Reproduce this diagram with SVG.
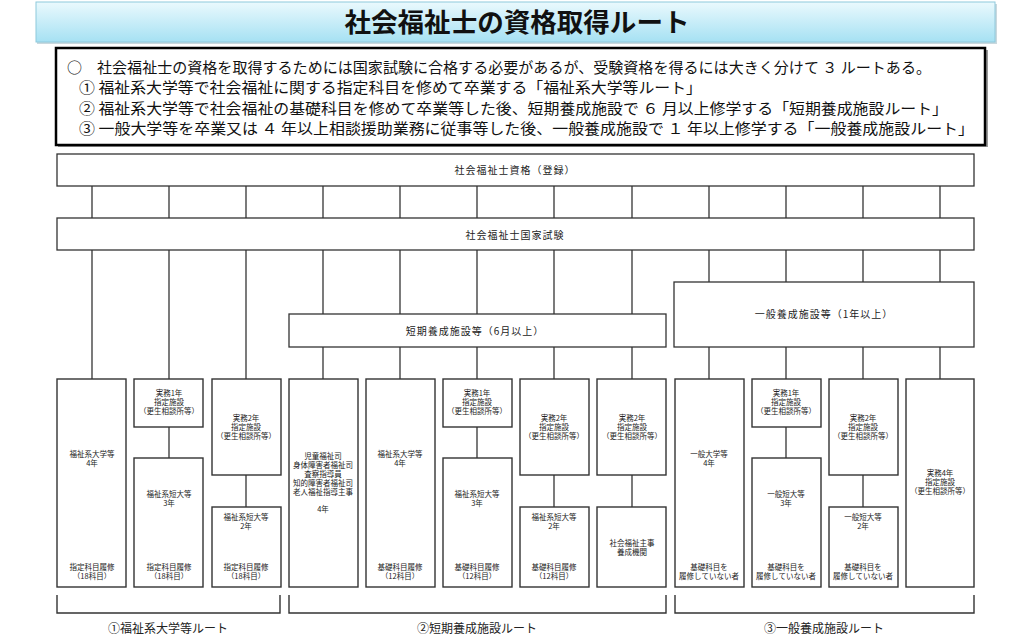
<svg xmlns="http://www.w3.org/2000/svg" width="1035" height="639" viewBox="0 0 1035 639">
<defs>
<linearGradient id="tg" x1="0" y1="0" x2="0" y2="1">
<stop offset="0" stop-color="#eaf9fd"/>
<stop offset="1" stop-color="#a6e1f3"/>
</linearGradient>
<style>
text{font-family:"Noto Sans CJK JP","Noto Sans CJK SC",sans-serif;fill:#222;}
.t{font-size:26px;font-weight:bold;fill:#111;}
.h{font-size:15px;fill:#111;}
.bar{fill:#fff;stroke:#333;stroke-width:1.3;}
.bx{fill:#fff;stroke:#333;stroke-width:1.4;}
.s{font-size:7.5px;text-anchor:middle;}
.m{font-size:10px;text-anchor:middle;letter-spacing:1px;}
.l{font-size:12px;text-anchor:middle;}
.cn line{stroke:#333;stroke-width:1.3;}
.br{fill:none;stroke:#333;stroke-width:1.4;}
</style>
</defs>
<rect width="1035" height="639" fill="#fff"/>

<g id="title">
<rect x="37" y="4" width="960" height="40" fill="#c9d8de" />
<rect x="36" y="2" width="959" height="40" fill="url(#tg)" stroke="#8ec9dc" stroke-width="1"/>
<text class="t" x="517" y="32" text-anchor="middle" textLength="345" lengthAdjust="spacingAndGlyphs">社会福祉士の資格取得ルート</text>
</g>

<g id="summary">
<rect x="58" y="50" width="930" height="97" fill="#9a9a9a"/>
<rect x="56" y="48" width="929" height="97" fill="#fff" stroke="#000" stroke-width="2.5"/>
<text class="h" x="67" y="73">○</text>
<text class="h" x="97" y="73" textLength="834" lengthAdjust="spacingAndGlyphs">社会福祉士の資格を取得するためには国家試験に合格する必要があるが、受験資格を得るには大きく分けて ３ ルートある。</text>
<text class="h" x="79" y="93" textLength="623" lengthAdjust="spacingAndGlyphs">① 福祉系大学等で社会福祉に関する指定科目を修めて卒業する「福祉系大学等ルート」</text>
<text class="h" x="79" y="114" textLength="869" lengthAdjust="spacingAndGlyphs">② 福祉系大学等で社会福祉の基礎科目を修めて卒業等した後、短期養成施設で ６ 月以上修学する「短期養成施設ルート」</text>
<text class="h" x="79" y="134" textLength="895" lengthAdjust="spacingAndGlyphs">③ 一般大学等を卒業又は ４ 年以上相談援助業務に従事等した後、一般養成施設で １ 年以上修学する「一般養成施設ルート」</text>
</g>

<g id="connectors" class="cn">
<line x1="92" y1="186" x2="92" y2="218"/><line x1="169" y1="186" x2="169" y2="218"/><line x1="246" y1="186" x2="246" y2="218"/><line x1="323" y1="186" x2="323" y2="218"/><line x1="400" y1="186" x2="400" y2="218"/><line x1="477" y1="186" x2="477" y2="218"/><line x1="554" y1="186" x2="554" y2="218"/><line x1="632" y1="186" x2="632" y2="218"/><line x1="709" y1="186" x2="709" y2="218"/><line x1="786" y1="186" x2="786" y2="218"/><line x1="863" y1="186" x2="863" y2="218"/><line x1="940" y1="186" x2="940" y2="218"/>
<line x1="92" y1="250" x2="92" y2="379"/><line x1="169" y1="250" x2="169" y2="379"/><line x1="246" y1="250" x2="246" y2="379"/>
<line x1="323" y1="250" x2="323" y2="314"/><line x1="400" y1="250" x2="400" y2="314"/><line x1="477" y1="250" x2="477" y2="314"/><line x1="554" y1="250" x2="554" y2="314"/><line x1="632" y1="250" x2="632" y2="314"/>
<line x1="709" y1="250" x2="709" y2="282"/><line x1="786" y1="250" x2="786" y2="282"/><line x1="863" y1="250" x2="863" y2="282"/><line x1="940" y1="250" x2="940" y2="282"/>
<line x1="323" y1="347" x2="323" y2="379"/><line x1="400" y1="347" x2="400" y2="379"/><line x1="477" y1="347" x2="477" y2="379"/><line x1="554" y1="347" x2="554" y2="379"/><line x1="632" y1="347" x2="632" y2="379"/>
<line x1="709" y1="347" x2="709" y2="379"/><line x1="786" y1="347" x2="786" y2="379"/><line x1="863" y1="347" x2="863" y2="379"/><line x1="940" y1="347" x2="940" y2="379"/>
<line x1="169" y1="427" x2="169" y2="458"/><line x1="246" y1="475" x2="246" y2="507"/>
<line x1="477" y1="427" x2="477" y2="458"/><line x1="554" y1="475" x2="554" y2="507"/><line x1="632" y1="475" x2="632" y2="507"/>
<line x1="786" y1="427" x2="786" y2="458"/><line x1="863" y1="475" x2="863" y2="507"/>
</g>

<g id="registration"><rect class="bar" x="57" y="154" width="917" height="32"/><text class="m" x="515" y="174">社会福祉士資格（登録）</text></g>
<g id="exam"><rect class="bar" x="57" y="218" width="917" height="32"/><text class="m" x="515" y="239" letter-spacing="3">社会福祉士国家試験</text></g>
<g id="short-course"><rect class="bar" x="289" y="314" width="377" height="33"/><text class="m" x="475" y="335">短期養成施設等（6月以上）</text></g>
<g id="general-course"><rect class="bar" x="674" y="282" width="300" height="65"/><text class="m" x="824" y="318">一般養成施設等（1年以上）</text></g>

<g id="c1"><rect class="bx" x="57" y="379" width="69" height="208"/><text class="s" x="92" y="457">福祉系大学等</text><text class="s" x="92" y="466">4年</text><text class="s" x="92" y="570">指定科目履修</text><text class="s" x="92" y="579">（18科目）</text></g>
<g id="c2a"><rect class="bx" x="134" y="379" width="69" height="48"/><text class="s" x="169" y="396">実務1年</text><text class="s" x="169" y="405">指定施設</text><text class="s" x="169" y="414">（更生相談所等）</text></g>
<g id="c2b"><rect class="bx" x="134" y="458" width="69" height="129"/><text class="s" x="169" y="497">福祉系短大等</text><text class="s" x="169" y="506">3年</text><text class="s" x="169" y="570">指定科目履修</text><text class="s" x="169" y="579">（18科目）</text></g>
<g id="c3a"><rect class="bx" x="212" y="379" width="69" height="96"/><text class="s" x="246" y="421">実務2年</text><text class="s" x="246" y="430">指定施設</text><text class="s" x="246" y="439">（更生相談所等）</text></g>
<g id="c3b"><rect class="bx" x="212" y="507" width="69" height="80"/><text class="s" x="246" y="520">福祉系短大等</text><text class="s" x="246" y="529">2年</text><text class="s" x="246" y="570">指定科目履修</text><text class="s" x="246" y="579">（18科目）</text></g>
<g id="c4"><rect class="bx" x="289" y="379" width="69" height="208"/><text class="s" x="323" y="459">児童福祉司</text><text class="s" x="323" y="468">身体障害者福祉司</text><text class="s" x="323" y="477">査察指導員</text><text class="s" x="323" y="486">知的障害者福祉司</text><text class="s" x="323" y="495">老人福祉指導主事</text><text class="s" x="323" y="512">4年</text></g>
<g id="c5"><rect class="bx" x="366" y="379" width="69" height="208"/><text class="s" x="400" y="457">福祉系大学等</text><text class="s" x="400" y="466">4年</text><text class="s" x="400" y="570">基礎科目履修</text><text class="s" x="400" y="579">（12科目）</text></g>
<g id="c6a"><rect class="bx" x="443" y="379" width="69" height="48"/><text class="s" x="477" y="396">実務1年</text><text class="s" x="477" y="405">指定施設</text><text class="s" x="477" y="414">（更生相談所等）</text></g>
<g id="c6b"><rect class="bx" x="443" y="458" width="69" height="129"/><text class="s" x="477" y="497">福祉系短大等</text><text class="s" x="477" y="506">3年</text><text class="s" x="477" y="570">基礎科目履修</text><text class="s" x="477" y="579">（12科目）</text></g>
<g id="c7a"><rect class="bx" x="520" y="379" width="69" height="96"/><text class="s" x="554" y="421">実務2年</text><text class="s" x="554" y="430">指定施設</text><text class="s" x="554" y="439">（更生相談所等）</text></g>
<g id="c7b"><rect class="bx" x="520" y="507" width="69" height="80"/><text class="s" x="554" y="520">福祉系短大等</text><text class="s" x="554" y="529">2年</text><text class="s" x="554" y="570">基礎科目履修</text><text class="s" x="554" y="579">（12科目）</text></g>
<g id="c8a"><rect class="bx" x="597" y="379" width="69" height="96"/><text class="s" x="632" y="421">実務2年</text><text class="s" x="632" y="430">指定施設</text><text class="s" x="632" y="439">（更生相談所等）</text></g>
<g id="c8b"><rect class="bx" x="597" y="507" width="69" height="80"/><text class="s" x="632" y="546">社会福祉主事</text><text class="s" x="632" y="555">養成機関</text></g>
<g id="c9"><rect class="bx" x="675" y="379" width="69" height="208"/><text class="s" x="709" y="457">一般大学等</text><text class="s" x="709" y="466">4年</text><text class="s" x="709" y="570">基礎科目を</text><text class="s" x="709" y="579">履修していない者</text></g>
<g id="c10a"><rect class="bx" x="752" y="379" width="69" height="48"/><text class="s" x="786" y="396">実務1年</text><text class="s" x="786" y="405">指定施設</text><text class="s" x="786" y="414">（更生相談所等）</text></g>
<g id="c10b"><rect class="bx" x="752" y="458" width="69" height="129"/><text class="s" x="786" y="497">一般短大等</text><text class="s" x="786" y="506">3年</text><text class="s" x="786" y="570">基礎科目を</text><text class="s" x="786" y="579">履修していない者</text></g>
<g id="c11a"><rect class="bx" x="829" y="379" width="69" height="96"/><text class="s" x="863" y="421">実務2年</text><text class="s" x="863" y="430">指定施設</text><text class="s" x="863" y="439">（更生相談所等）</text></g>
<g id="c11b"><rect class="bx" x="829" y="507" width="69" height="80"/><text class="s" x="863" y="520">一般短大等</text><text class="s" x="863" y="529">2年</text><text class="s" x="863" y="570">基礎科目を</text><text class="s" x="863" y="579">履修していない者</text></g>
<g id="c12"><rect class="bx" x="906" y="379" width="68" height="208"/><text class="s" x="940" y="476">実務4年</text><text class="s" x="940" y="485">指定施設</text><text class="s" x="940" y="494">（更生相談所等）</text></g>

<g id="route1"><path class="br" d="M57 595 V613 H280 V595"/><text class="l" x="168" y="633">①福祉系大学等ルート</text></g>
<g id="route2"><path class="br" d="M289 595 V613 H666 V595"/><text class="l" x="477" y="633">②短期養成施設ルート</text></g>
<g id="route3"><path class="br" d="M675 595 V613 H974 V595"/><text class="l" x="824" y="633">③一般養成施設ルート</text></g>
</svg>
